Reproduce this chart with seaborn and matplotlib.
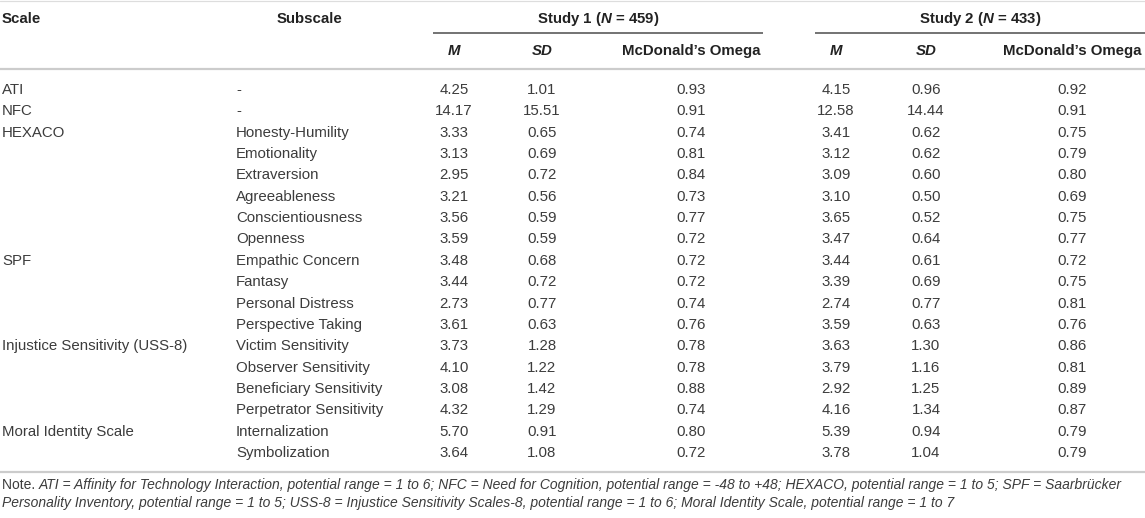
import seaborn as sns
import matplotlib
matplotlib.use("Agg")
import matplotlib.pyplot as plt

# table content
scales = ["ATI", "NFC", "HEXACO", "", "", "", "", "", "SPF", "", "", "",
          "Injustice Sensitivity (USS-8)", "", "", "", "Moral Identity Scale", ""]
subscales = ["-", "-", "Honesty-Humility", "Emotionality", "Extraversion",
             "Agreeableness", "Conscientiousness", "Openness", "Empathic Concern",
             "Fantasy", "Personal Distress", "Perspective Taking", "Victim Sensitivity",
             "Observer Sensitivity", "Beneficiary Sensitivity", "Perpetrator Sensitivity",
             "Internalization", "Symbolization"]
s1_m = ["4.25", "14.17", "3.33", "3.13", "2.95", "3.21", "3.56", "3.59", "3.48",
        "3.44", "2.73", "3.61", "3.73", "4.10", "3.08", "4.32", "5.70", "3.64"]
s1_sd = ["1.01", "15.51", "0.65", "0.69", "0.72", "0.56", "0.59", "0.59", "0.68",
         "0.72", "0.77", "0.63", "1.28", "1.22", "1.42", "1.29", "0.91", "1.08"]
s1_omega = ["0.93", "0.91", "0.74", "0.81", "0.84", "0.73", "0.77", "0.72", "0.72",
            "0.72", "0.74", "0.76", "0.78", "0.78", "0.88", "0.74", "0.80", "0.72"]
s2_m = ["4.15", "12.58", "3.41", "3.12", "3.09", "3.10", "3.65", "3.47", "3.44",
        "3.39", "2.74", "3.59", "3.63", "3.79", "2.92", "4.16", "5.39", "3.78"]
s2_sd = ["0.96", "14.44", "0.62", "0.62", "0.60", "0.50", "0.52", "0.64", "0.61",
         "0.69", "0.77", "0.63", "1.30", "1.16", "1.25", "1.34", "0.94", "1.04"]
s2_omega = ["0.92", "0.91", "0.75", "0.79", "0.80", "0.69", "0.75", "0.77", "0.72",
            "0.75", "0.81", "0.76", "0.86", "0.81", "0.89", "0.87", "0.79", "0.79"]

studies = [r"Study 1 ($\mathbfit{N}$ = 459)", r"Study 2 ($\mathbfit{N}$ = 433)"]
note_lead = "Note."
note_lines = [
    "ATI = Affinity for Technology Interaction, potential range = 1 to 6; NFC = Need for Cognition, "
    "potential range = -48 to +48; HEXACO, potential range = 1 to 5; SPF = Saarbrücker",
    "Personality Inventory, potential range = 1 to 5; USS-8 = Injustice Sensitivity Scales-8, "
    "potential range = 1 to 6; Moral Identity Scale, potential range = 1 to 7",
]

sns.set_theme(style="white")
plt.rcParams["font.family"] = ["Liberation Sans", "DejaVu Sans"]
plt.rcParams["mathtext.fontset"] = "custom"
plt.rcParams["mathtext.rm"] = "Liberation Sans:bold"
plt.rcParams["mathtext.bfit"] = "Liberation Sans:bold:italic"

W, H = 1145, 518
fig = plt.figure(figsize=(W / 100, H / 100), dpi=100)
ax = fig.add_axes([0, 0, 1, 1])
ax.set_xlim(0, W)
ax.set_ylim(H, 0)
ax.axis("off")

fs = 10.8
head_col = "#222222"
body_col = "#3c3c3c"
px = 0.72  # one pixel in points

# column centres
x_scale, x_sub, x_subhead = 2, 236, 309
cols = [454, 542, 691, 836, 926, 1072]
study_spans = [(433, 763), (815, W)]

# header
ax.text(x_scale, 19, "Scale", fontsize=fs, fontweight="bold", color=head_col, va="center")
ax.text(x_subhead, 19, "Subscale", fontsize=fs, fontweight="bold", color=head_col,
        va="center", ha="center")
for (a, b), lab in zip(study_spans, studies):
    ax.text((a + b) / 2, 19, lab, fontsize=fs, fontweight="bold", color=head_col,
            va="center", ha="center")
    ax.plot([a, b], [33, 33], color="#555555", lw=1.6 * px, solid_capstyle="butt")
for i, lab in enumerate(["M", "SD", "McDonald\u2019s Omega"] * 2):
    style = "italic" if lab in ("M", "SD") else "normal"
    ax.text(cols[i], 51, lab, fontsize=fs, fontweight="bold", fontstyle=style,
            color=head_col, va="center", ha="center")

# rules
ax.plot([0, W], [1, 1], color="#dddddd", lw=1.2 * px)
ax.plot([0, W], [69, 69], color="#cccccc", lw=2.2 * px)
ax.plot([0, W], [472, 472], color="#cccccc", lw=2.2 * px)

# body
y0, dy = 90, 21.35
columns = [s1_m, s1_sd, s1_omega, s2_m, s2_sd, s2_omega]
for r in range(len(subscales)):
    y = y0 + r * dy
    ax.text(x_scale, y, scales[r], fontsize=fs, color=body_col, va="center")
    ax.text(x_sub, y, subscales[r], fontsize=fs, color=body_col, va="center")
    for c, vals in enumerate(columns):
        ax.text(cols[c], y, vals[r], fontsize=fs, color=body_col, va="center", ha="center")

# note: shrink the font so the first line ends where the reference line ends
fig.canvas.draw()
rend = fig.canvas.get_renderer()
lead = ax.text(x_scale, 485, note_lead + " ", fontsize=fs, color=body_col, va="center")
first = ax.text(0, 485, note_lines[0], fontsize=fs, fontstyle="italic",
                color=body_col, va="center")
total = lead.get_window_extent(rend).width + first.get_window_extent(rend).width
nfs = fs * (1123 - x_scale) / total
lead.set_fontsize(nfs)
first.set_fontsize(nfs)
first.set_x(x_scale + lead.get_window_extent(rend).width)
ax.text(x_scale, 503, note_lines[1], fontsize=nfs, fontstyle="italic",
        color=body_col, va="center")

fig.savefig("out.png", dpi=100)
